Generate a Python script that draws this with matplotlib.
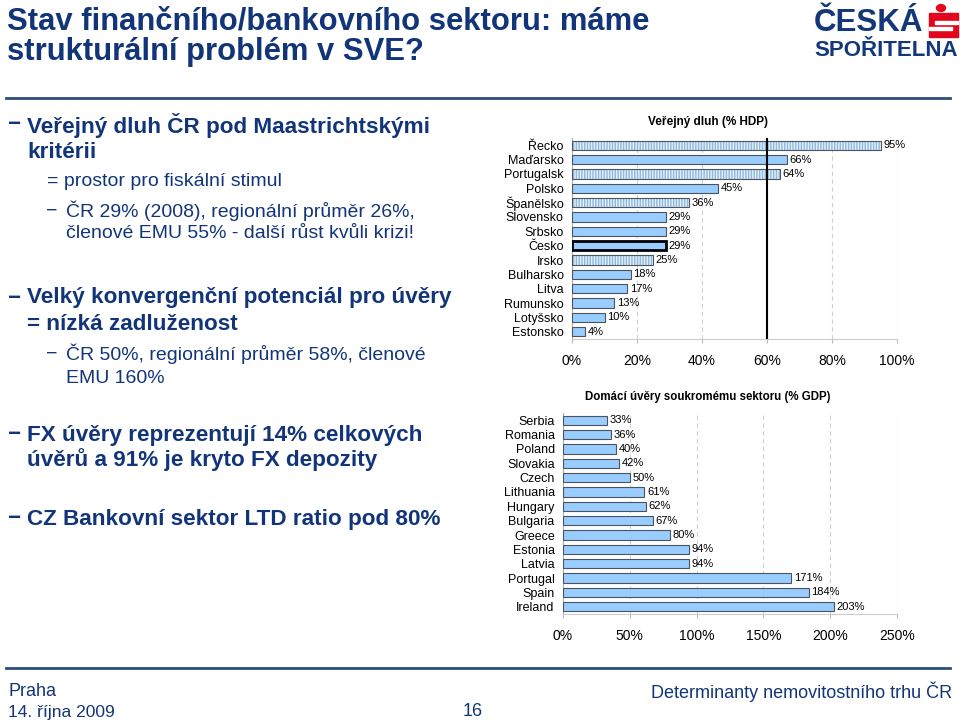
import matplotlib.pyplot as plt
from matplotlib.lines import Line2D
from matplotlib.patches import Rectangle, Circle
import numpy as np

plt.rcParams['font.family'] = ['Liberation Sans', 'DejaVu Sans']

# public debt (% GDP)
debt_countries = ['Řecko', 'Maďarsko', 'Portugalsk', 'Polsko', 'Španělsko', 'Slovensko', 'Srbsko',
                  'Česko', 'Irsko', 'Bulharsko', 'Litva', 'Rumunsko', 'Lotyšsko', 'Estonsko']
debt_values = [95, 66, 64, 45, 36, 29, 29, 29, 25, 18, 17, 13, 10, 4]
debt_emu = [True, False, True, False, True, False, False, False, True, False, False, False, False, False]
debt_highlight = 'Česko'
maastricht_limit = 60

# domestic private credit (% GDP)
credit_countries = ['Serbia', 'Romania', 'Poland', 'Slovakia', 'Czech', 'Lithuania', 'Hungary',
                    'Bulgaria', 'Greece', 'Estonia', 'Latvia', 'Portugal', 'Spain', 'Ireland']
credit_values = [33, 36, 40, 42, 50, 61, 62, 67, 80, 94, 94, 171, 184, 203]

navy = '#12357a'
bar_blue = '#99ccff'
hatch_face = '#e3f0fb'
edge = '#4a5560'
red = '#e3051b'

fig = plt.figure(figsize=(9.6, 7.28), dpi=100)


def fy(y):
    return 1 - y / 728


def fx(x):
    return x / 960


# header
fig.text(fx(7), fy(22), 'Stav finančního/bankovního sektoru: máme', color=navy,
         fontsize=22.3, fontweight='bold', va='center')
fig.text(fx(7), fy(52), 'strukturální problém v SVE?', color=navy,
         fontsize=22.3, fontweight='bold', va='center')
fig.add_artist(Line2D([fx(6), fx(950)], [fy(98), fy(98)], color='#2d4d7c', lw=2))

# logo
fig.text(fx(814), fy(23), 'ČESKÁ', color='#13387a', fontsize=22.5, fontweight='heavy', va='center')
fig.text(fx(814), fy(51), 'SPOŘITELNA', color='#13387a', fontsize=16, fontweight='heavy', va='center')
fig.add_artist(Circle((fx(941), fy(8)), 4.5 / 960, transform=fig.transFigure, color=red))
fig.add_artist(Rectangle((fx(929), fy(37)), fx(29), 24 / 728, transform=fig.transFigure, color=red))
fig.add_artist(Rectangle((fx(935), fy(24)), fx(23), 3 / 728, transform=fig.transFigure, color='white'))
fig.add_artist(Rectangle((fx(929), fy(30)), fx(23), 3 / 728, transform=fig.transFigure, color='white'))

# bullets
lvl1 = [(125, 'Veřejný dluh ČR pod Maastrichtskými'), (152, 'kritérii'),
        (298, 'Velký konvergenční potenciál pro úvěry'), (324, '= nízká zadluženost'),
        (435, 'FX úvěry reprezentují 14% celkových'), (460, 'úvěrů a 91% je kryto FX depozity'),
        (519, 'CZ Bankovní sektor LTD ratio pod 80%')]
for y, t in lvl1:
    fig.text(fx(27), fy(y), t, color=navy, fontsize=16.2, fontweight='bold', va='center')
for y in [125, 298, 435, 519]:
    fig.text(fx(7), fy(y), '−', color=navy, fontsize=16, fontweight='bold', va='center')

lvl2 = [(182, 47, '= prostor pro fiskální stimul'),
        (211, 66, 'ČR 29% (2008), regionální průměr 26%,'),
        (234, 66, 'členové EMU 55% - další růst kvůli krizi!'),
        (354, 66, 'ČR 50%, regionální průměr 58%, členové'),
        (378, 66, 'EMU 160%')]
for y, x, t in lvl2:
    fig.text(fx(x), fy(y), t, color=navy, fontsize=14, va='center')
for y in [211, 354]:
    fig.text(fx(46), fy(y), '−', color=navy, fontsize=14, va='center')

# footer
fig.add_artist(Line2D([fx(6), fx(950)], [fy(668), fy(668)], color='#2d4d7c', lw=2))
fig.text(fx(8), fy(692), 'Praha', color=navy, fontsize=13, va='center')
fig.text(fx(8), fy(713), '14. října 2009', color=navy, fontsize=12.5, va='center')
fig.text(fx(473), fy(711), '16', color=navy, fontsize=13, va='center', ha='center')
fig.text(fx(952), fy(692), 'Determinanty nemovitostního trhu ČR', color=navy, fontsize=13,
         va='center', ha='right')


def style_axes(ax, xmax, step, labels):
    ax.set_xlim(0, xmax)
    ax.set_ylim(13.5, -0.5)
    ticks = np.arange(0, xmax + step / 2, step)
    ax.set_xticks(ticks)
    ax.set_xticklabels([f'{int(t)}%' for t in ticks], fontsize=10)
    ax.set_yticks(range(len(labels)))
    ax.set_yticklabels(labels, fontsize=9)
    ax.tick_params(axis='y', length=0, pad=6)
    ax.tick_params(axis='x', length=3, color='#bbbbbb', pad=8)
    for s in ['top', 'right']:
        ax.spines[s].set_visible(False)
    ax.spines['left'].set_color('#aaaaaa')
    ax.spines['bottom'].set_color('#cccccc')
    for t in ticks[1:]:
        ax.axvline(t, color='#d0d0d0', ls=(0, (4, 3)), lw=0.8, zorder=0)


# chart 1: public debt
ax1 = fig.add_axes([fx(572), fy(339), fx(325), 201 / 728])
for i, (c, v, emu) in enumerate(zip(debt_countries, debt_values, debt_emu)):
    if emu:
        ax1.barh(i, v, height=0.65, color=hatch_face, edgecolor='#8fb8dc', hatch='||||||', lw=0, zorder=2)
        ax1.barh(i, v, height=0.65, fill=False, edgecolor=edge, lw=0.8, zorder=3)
    else:
        lw = 2 if c == debt_highlight else 0.8
        ec = 'black' if c == debt_highlight else edge
        ax1.barh(i, v, height=0.65, color=bar_blue, edgecolor=ec, lw=lw, zorder=3)
    ax1.text(v + 0.8, i, f'{v}%', fontsize=8, va='center', ha='left')
style_axes(ax1, 100, 20, debt_countries)
ax1.axvline(maastricht_limit, color='black', lw=1.5, zorder=4)
fig.text(fx(708), fy(122), 'Veřejný dluh (% HDP)', fontsize=8.5, fontweight='bold',
         ha='center', va='center')

# chart 2: private credit
ax2 = fig.add_axes([fx(563), fy(614), fx(334), 201 / 728])
y2 = np.arange(len(credit_countries))
ax2.barh(y2, credit_values, height=0.65, color=bar_blue, edgecolor=edge, lw=0.8, zorder=3)
for i, v in enumerate(credit_values):
    ax2.text(v + 2, i, f'{v}%', fontsize=8, va='center', ha='left')
style_axes(ax2, 250, 50, credit_countries)
fig.text(fx(708), fy(397), 'Domácí úvěry soukromému sektoru (% GDP)', fontsize=8.3,
         fontweight='bold', ha='center', va='center')

fig.savefig('out.png', dpi=100)
